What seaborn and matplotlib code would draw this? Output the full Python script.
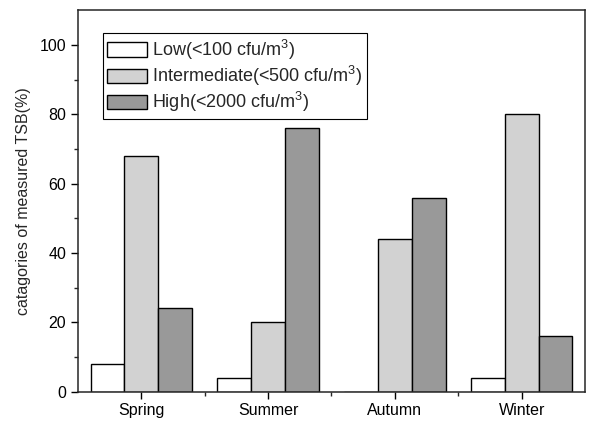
import pandas as pd
import matplotlib.pyplot as plt
import seaborn as sns
from matplotlib.ticker import FixedLocator

# Data
seasons = ['Spring', 'Summer', 'Autumn', 'Winter']
levels = ['Low(<100 cfu/m$^3$)', 'Intermediate(<500 cfu/m$^3$)', 'High(<2000 cfu/m$^3$)']
low = [8, 4, 0, 4]
intermediate = [68, 20, 44, 80]
high = [24, 76, 56, 16]
colors = ['#ffffff', '#d2d2d2', '#999999']

df = pd.DataFrame({
    'season': seasons * 3,
    'level': [levels[0]] * 4 + [levels[1]] * 4 + [levels[2]] * 4,
    'value': low + intermediate + high,
})

sns.set_style('ticks')
plt.rcParams['font.family'] = ['Liberation Sans', 'DejaVu Sans']
plt.rcParams['mathtext.fontset'] = 'custom'
plt.rcParams['mathtext.rm'] = 'Liberation Sans'
plt.rcParams['mathtext.it'] = 'Liberation Sans'

fig = plt.figure(figsize=(5.89, 4.21), dpi=100)
ax = fig.add_axes([0.1324, 0.0696, 0.8608, 0.9059])

sns.barplot(data=df, x='season', y='value', hue='level', palette=colors,
            edgecolor='black', linewidth=1.0, width=0.8, ax=ax, saturation=1)

ax.set_xlim(-0.5, 3.5)
ax.set_ylim(0, 110)
ax.yaxis.set_major_locator(FixedLocator([0, 20, 40, 60, 80, 100]))
ax.yaxis.set_minor_locator(FixedLocator([10, 30, 50, 70, 90]))
ax.xaxis.set_minor_locator(FixedLocator([0.5, 1.5, 2.5]))
ax.tick_params(axis='both', which='major', direction='out', length=5, width=1, labelsize=11.5, colors='black')
ax.tick_params(axis='both', which='minor', direction='out', length=3, width=1)
ax.tick_params(axis='x', pad=3)
for s in ax.spines.values():
    s.set_linewidth(1.1)
    s.set_visible(True)

ax.set_xlabel('')
ax.set_ylabel('catagories of measured TSB(%)', fontsize=11.5, labelpad=6)

leg = ax.legend(loc='upper left', bbox_to_anchor=(0.049, 0.94), fontsize=13,
                frameon=True, fancybox=False, edgecolor='black', framealpha=1,
                handlelength=2.2, handleheight=0.87, handletextpad=0.3,
                labelspacing=0.12, borderpad=0.25, borderaxespad=0)
leg.get_frame().set_linewidth(0.8)
for h in leg.get_patches():
    h.set_edgecolor('black')

fig.savefig('out.png', dpi=100)
